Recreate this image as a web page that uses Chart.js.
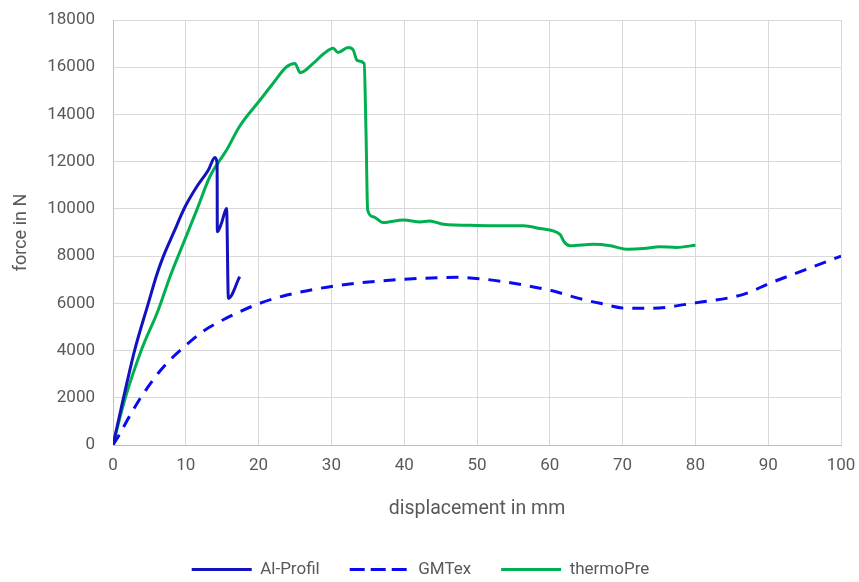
<!DOCTYPE html>
<html>
<head>
<meta charset="utf-8">
<script src="https://cdn.jsdelivr.net/npm/chart.js@4/dist/chart.umd.min.js"></script>
<style>
  html, body { margin: 0; padding: 0; background: #fff; }
  #wrap { width: 859px; height: 582px; }
</style>
</head>
<body>
<div id="wrap"><canvas id="chart" width="859" height="582"></canvas></div>
<script>
// displacement (mm) / force (N)
const alDisp  = [0, 1.37, 2.98, 4.85, 6.0, 6.9, 8.28, 9.9, 11.5, 13.1, 14.0, 14.3, 14.33, 14.9, 15.6, 15.85, 17.4];
const alForce = [0, 1900, 4020, 6000, 7200, 7980, 8960, 10090, 10940, 11650, 12180, 11930, 9030, 9390, 10020, 6210, 7130];

const gmDisp  = [0, 0.7, 2.5, 3.9, 6.2, 7.6, 9.9, 12.3, 15.5, 19.9, 23.9, 28.5, 34.3, 40.1, 47.2, 51.1, 56.3, 60.2, 64.0, 66.9, 70.6, 73.8, 80.2, 86.6, 90.2, 94.4, 100];
const gmForce = [0, 350, 1340, 2050, 3040, 3530, 4190, 4800, 5360, 5970, 6350, 6640, 6880, 7020, 7100, 7020, 6780, 6540, 6210, 6000, 5790, 5790, 6030, 6380, 6850, 7340, 8000];

const thDisp  = [0, 1.6, 3.9, 6.22, 7.83, 9.66, 11.5, 13.3, 15.6, 17.4, 20.2, 22.0, 23.85, 25.0, 25.7, 27.5, 28.9, 30.26, 30.9, 32.3, 33.0, 33.55, 34.5, 34.75, 34.98, 35.75, 37.1, 39.9, 42.2, 43.5, 45.4, 50.0, 53.2, 56.4, 58.65, 61.4, 61.95, 62.8, 66.0, 68.3, 70.6, 72.9, 75.1, 77.4, 80.0];
const thForce = [0, 1900, 4020, 5720, 7130, 8540, 9950, 11360, 12490, 13500, 14610, 15320, 16020, 16160, 15770, 16160, 16560, 16800, 16620, 16840, 16730, 16280, 16160, 13340, 9950, 9670, 9420, 9530, 9450, 9490, 9350, 9300, 9290, 9290, 9170, 8920, 8610, 8440, 8500, 8440, 8290, 8320, 8400, 8370, 8460];

const seriesNames = ['Al-Profil', 'GMTex', 'thermoPre'];

const pts = (xs, ys) => xs.map((x, i) => ({ x, y: ys[i] }));

const txt = '#595959';
const grid = '#D9D9D9';

new Chart(document.getElementById('chart'), {
  type: 'scatter',
  data: {
    datasets: [
      { label: seriesNames[0], data: pts(alDisp, alForce), showLine: true, borderColor: '#1212BE', backgroundColor: '#1212BE', borderWidth: 3, pointRadius: 0, cubicInterpolationMode: 'monotone' },
      { label: seriesNames[1], data: pts(gmDisp, gmForce), showLine: true, borderColor: '#0A0AF2', backgroundColor: '#0A0AF2', borderWidth: 3, borderDash: [12, 9], pointRadius: 0, cubicInterpolationMode: 'monotone' },
      { label: seriesNames[2], data: pts(thDisp, thForce), showLine: true, borderColor: '#00B050', backgroundColor: '#00B050', borderWidth: 3, pointRadius: 0, cubicInterpolationMode: 'monotone' }
    ]
  },
  options: {
    responsive: false,
    animation: false,
    devicePixelRatio: 1,
    layout: { padding: { left: 0, right: 18, top: 20, bottom: -6 } },
    plugins: {
      tooltip: { enabled: false },
      legend: {
        position: 'bottom',
        labels: {
          boxWidth: 60, boxHeight: 0, padding: 30,
          color: txt, font: { family: 'Roboto', size: 17 }
        }
      }
    },
    scales: {
      x: {
        type: 'linear', min: 0, max: 100,
        // invisible tick marks give the label gap without padding the chart area
        ticks: { stepSize: 10, padding: 0, color: txt, font: { family: 'Roboto', size: 17 }, maxRotation: 0 },
        grid: { color: grid, drawTicks: true, tickLength: 11, tickColor: 'rgba(0,0,0,0)' },
        border: { color: '#BFBFBF' },
        title: { display: true, text: 'displacement in mm', color: txt, font: { family: 'Roboto', size: 19.5 }, padding: { top: 0, bottom: 10 } },
        afterFit: s => { s.height = 86; }
      },
      y: {
        min: 0, max: 18000,
        ticks: { stepSize: 2000, padding: 0, color: txt, font: { family: 'Roboto', size: 17 }, callback: v => String(v) },
        grid: { color: grid, drawTicks: true, tickLength: 18, tickColor: 'rgba(0,0,0,0)' },
        border: { color: '#BFBFBF' },
        title: { display: true, text: 'force in N', color: txt, font: { family: 'Roboto', size: 18 }, padding: { top: 11, bottom: 0 } },
        afterFit: s => { s.width = 113; }
      }
    }
  }
});
</script>
</body>
</html>
